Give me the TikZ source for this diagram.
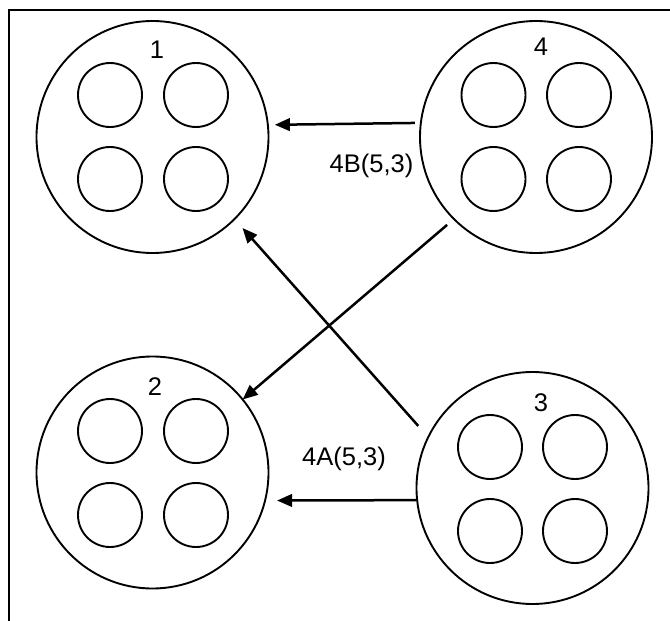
\documentclass[tikz,border=0pt]{standalone}
\usepackage{fontspec}
\setmainfont{Liberation Sans}
\usetikzlibrary{arrows.meta}
\begin{document}
\begin{tikzpicture}[x=1pt,y=-1pt,
  group/.style={circle,draw,line width=1.9pt,minimum size=232pt,inner sep=0pt,outer sep=0pt},
  cell/.style={circle,draw,line width=1.9pt,minimum size=64pt,inner sep=0pt,outer sep=0pt},
  tag/.style={font=\fontsize{25.5}{30}\selectfont,inner sep=0pt},
  flow/.style={line width=2.5pt,-{Triangle[length=15pt,width=12.5pt]}},
  edgeline/.style={line width=2pt}]
\useasboundingbox (0,0) rectangle (670,621);
% page border (top and left edges)
\draw[edgeline] (9,621) -- (9,10) -- (670,10);

% the four groups
\node[group] (g1) at (152.5,137) {};
\node[group] (g4) at (536,137) {};
\node[group] (g2) at (152.5,472.5) {};
\node[group] (g3) at (532.5,488) {};

% four cells in each group
\node[cell] (g1a) at (110,95) {};
\node[cell] (g1b) at (196,95) {};
\node[cell] (g1c) at (110,179) {};
\node[cell] (g1d) at (196,179) {};

\node[cell] (g4a) at (493.5,95) {};
\node[cell] (g4b) at (579,95) {};
\node[cell] (g4c) at (493.5,179) {};
\node[cell] (g4d) at (579,179) {};

\node[cell] (g2a) at (110,431) {};
\node[cell] (g2b) at (196,431) {};
\node[cell] (g2c) at (110,515) {};
\node[cell] (g2d) at (196,515) {};

\node[cell] (g3a) at (490,447) {};
\node[cell] (g3b) at (575,447) {};
\node[cell] (g3c) at (490,531) {};
\node[cell] (g3d) at (575,531) {};

% group numbers
\node[tag] (n1) at (157,50) {1};
\node[tag] (n4) at (541,47) {4};
\node[tag] (n2) at (155,387) {2};
\node[tag] (n3) at (541,403) {3};

% transfers
\draw[flow, shorten <=6pt, shorten >=7pt] (g4.173.6) -- (g1.6.4);
\draw[flow, shorten <=1pt, shorten >=12pt] (g3.186.4) -- (g2.-14.2);
\draw[flow, shorten <=15pt, shorten >=12pt] (g3.154.9) -- (g1.-45.2);
\draw[flow, shorten <=9pt] (g4.225.6) -- (g2.39.5);

\node[tag] (lbl4b) at (371.5,165.5) {4B(5,3)};
\node[tag] (lbl4a) at (344,459) {4A(5,3)};
\end{tikzpicture}
\end{document}
